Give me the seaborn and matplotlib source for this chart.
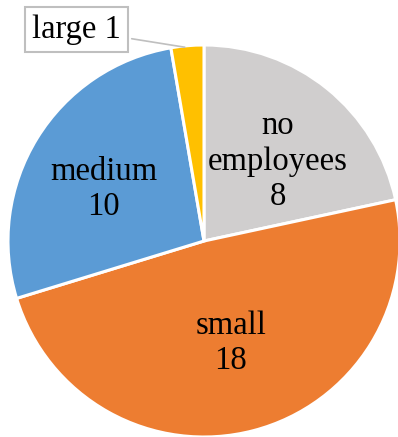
import numpy as np
import matplotlib
matplotlib.use("Agg")
import matplotlib.pyplot as plt
import seaborn as sns

labels = ["no\nemployees", "small", "medium", "large"]
counts = [8, 18, 10, 1]
colors = ["#D0CECE", "#ED7D31", "#5B9BD5", "#FFC000"]

sns.set_theme(style="white")
plt.rcParams["font.family"] = ["Liberation Serif", "DejaVu Serif"]
plt.rcParams["text.color"] = "black"

fig = plt.figure(figsize=(3.98, 4.37), dpi=100)
ax = fig.add_axes([8 / 398, 0, 392 / 398, 392 / 437])

wedges, _ = ax.pie(
    counts,
    colors=colors,
    startangle=90,
    counterclock=False,
    radius=1,
    wedgeprops={"edgecolor": "white", "linewidth": 2.2},
)
ax.set_xlim(-1, 1)
ax.set_ylim(-1, 1)
ax.set_aspect("equal")

# (radius, nudge in y) for label placement
place = {0: (0.6, -0.06), 1: (0.54, 0.0), 2: (0.6, -0.05)}
for i, w in enumerate(wedges):
    if i == 3:
        continue
    mid = np.deg2rad((w.theta1 + w.theta2) / 2)
    r, dy = place[i]
    ax.text(r * np.cos(mid), r * np.sin(mid) + dy, f"{labels[i]}\n{counts[i]}",
            ha="center", va="center", fontsize=23.5, linespacing=1.2,
            color="black")

# callout for the tiny slice
w = wedges[3]
mid = np.deg2rad((w.theta1 + w.theta2) / 2)
ax.annotate(
    f"{labels[3]} {counts[3]}",
    xy=(0.99 * np.cos(mid), 0.99 * np.sin(mid)),
    xytext=(-0.65, 1.077),
    ha="center", va="center", fontsize=23.5, color="black",
    bbox=dict(boxstyle="square,pad=0.22", fc="white", ec="#BFBFBF", lw=1.5),
    arrowprops=dict(arrowstyle="-", color="#BFBFBF", lw=1.2),
    annotation_clip=False,
)

fig.savefig("out.png", dpi=100)
